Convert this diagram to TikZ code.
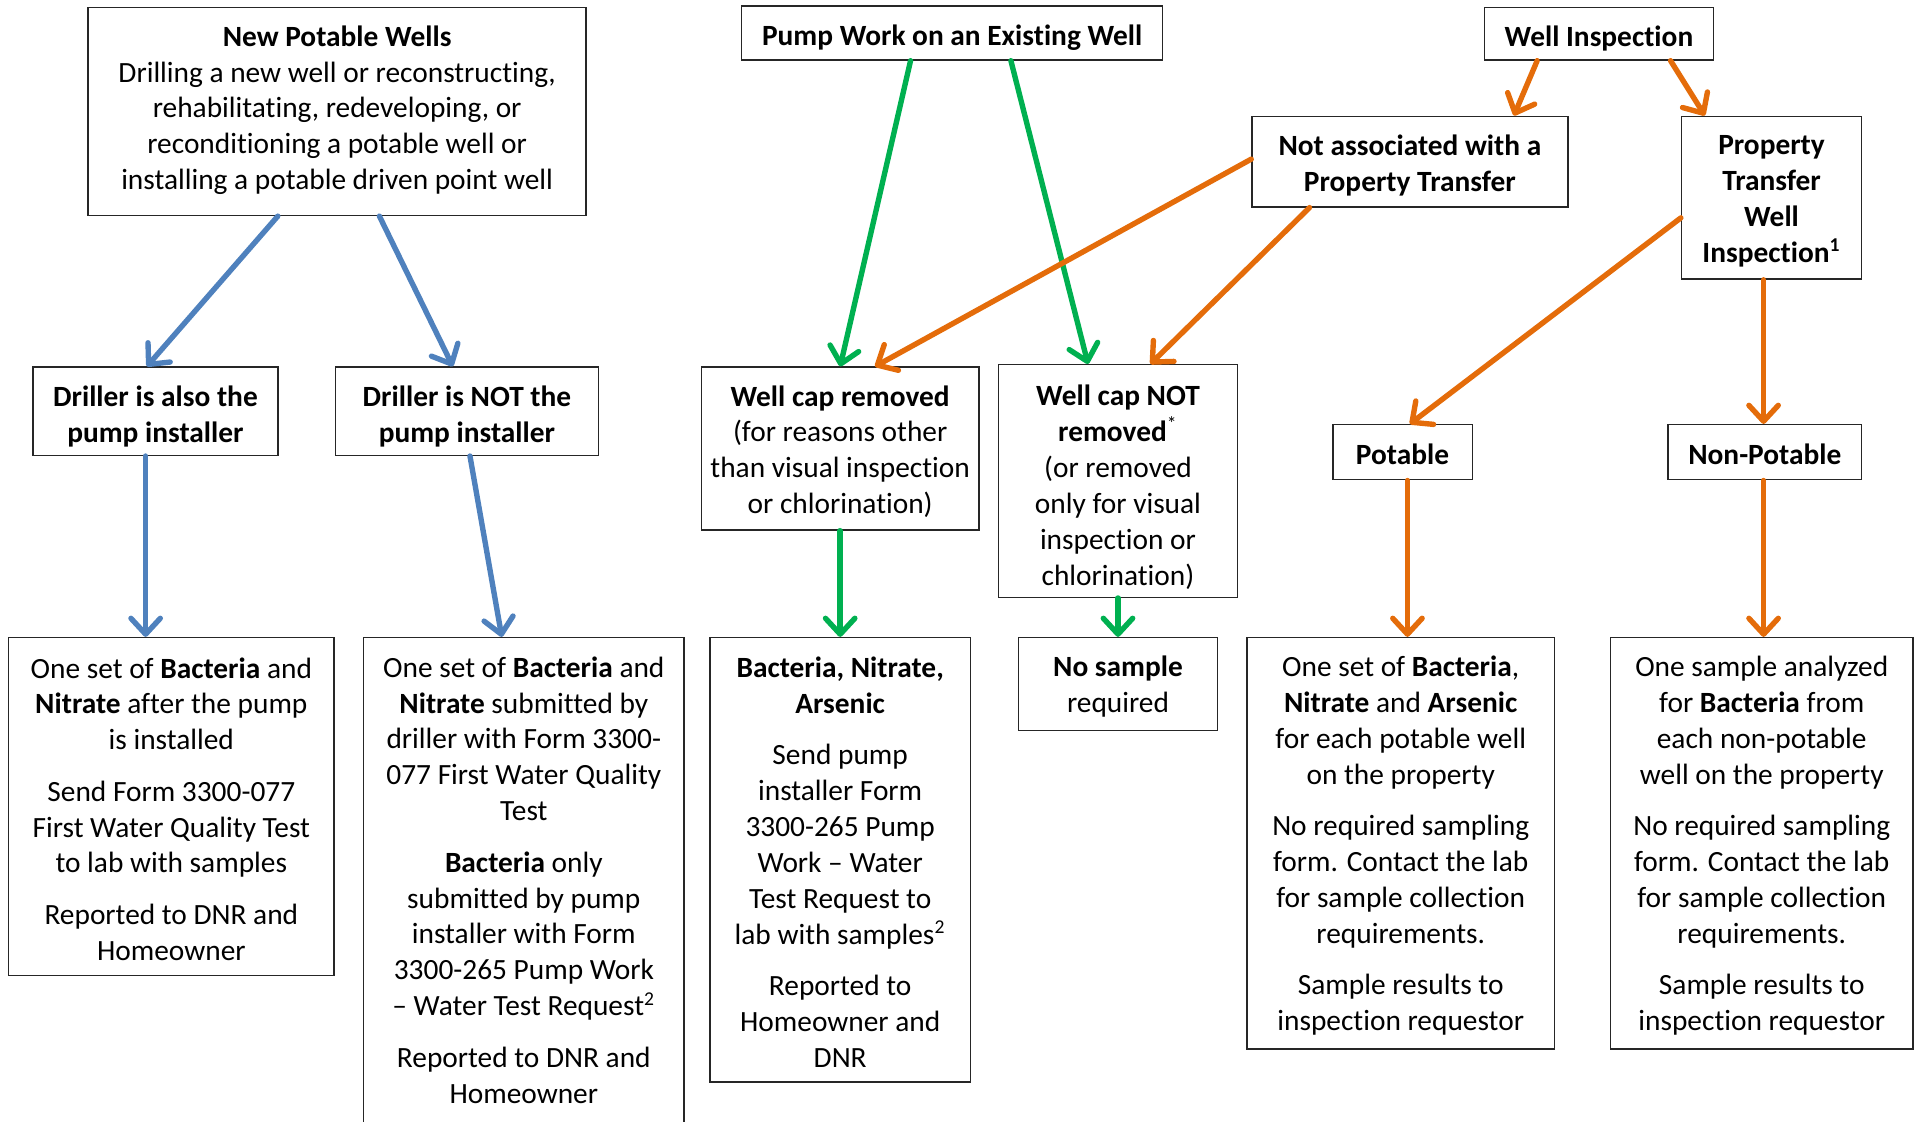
\documentclass[tikz,border=0pt]{standalone}
\usepackage{fontspec}
\setmainfont{Carlito}[Ligatures={TeX,NoCommon}]
\usetikzlibrary{arrows.meta}
\definecolor{cblue}{HTML}{4F81BD}
\definecolor{cgreen}{HTML}{00B050}
\definecolor{corange}{HTML}{E46C0A}
\tikzset{
  box/.style={draw=black!85, line width=0.6pt, inner sep=0pt, fill=white},
  ntext/.style={inner sep=0pt, align=center, font=\fontsize{12}{14.65}\selectfont},
  btext/.style={ntext, font=\fontsize{12}{14.65}\selectfont\bfseries},
  flow/.style={line width=2.2pt, line cap=round,
    -{Straight Barb[length=6.5pt,width=12pt,round]}},
  barrow/.style={flow, cblue},
  garrow/.style={flow, cgreen},
  oarrow/.style={flow, corange}
}
\newcommand{\pg}{\\[6.4pt]}
% name, cx, cy, width(pt), height(pt), n|b, downshift(pt), text
\newcommand{\bx}[8]{\node[box, minimum width=#4pt, minimum height=#5pt,
  label={[#6text, yshift=-#7pt]center:{#8}}] (#1) at (#2,#3) {};}
\begin{document}
\begin{tikzpicture}[x=0.5pt,y=-0.5pt]
\useasboundingbox (0,0) rectangle (1568,916);
% blue column
\bx{npw}{275.5}{91}{203.5}{85}{n}{-0.5}
  {\textbf{New Potable Wells}\\Drilling a new well or reconstructing,\\rehabilitating, redeveloping, or\\reconditioning a potable well or\\installing a potable driven point well}
\bx{drA}{127}{336}{100}{36}{b}{2}
  {Driller is also the\\pump installer}
\bx{drN}{381.5}{336}{107.5}{36}{b}{2}
  {Driller is NOT the\\pump installer}
\bx{bot1}{140}{659}{133}{138}{n}{1}
  {One set of \textbf{Bacteria} and\\\textbf{Nitrate} after the pump\\is installed\pg
   Send Form 3300-077\\First Water Quality Test\\to lab with samples\pg
   Reported to DNR and\\Homeowner}
\bx{bot2}{428}{719}{131}{198}{n}{0}
  {One set of \textbf{Bacteria} and\\\textbf{Nitrate} submitted by\\driller with Form 3300-\\077 First Water Quality\\Test\pg
   \textbf{Bacteria} only\\submitted by pump\\installer with Form\\3300-265 Pump Work\\– Water Test Request\textsuperscript{2}\pg
   Reported to DNR and\\Homeowner}
% green column
\bx{pump}{778}{27}{172}{22}{b}{2}
  {Pump Work on an Existing Well}
\bx{capR}{686.5}{366.5}{113.5}{66.5}{n}{1.25}
  {\textbf{Well cap removed}\\(for reasons other\\than visual inspection\\or chlorination)}
\bx{capN}{913.5}{393}{97.5}{95}{n}{2.5}
  {\textbf{Well cap NOT}\\\textbf{removed}\textsuperscript{*}\\(or removed\\only for visual\\inspection or\\chlorination)}
\bx{bna}{686.5}{702.5}{106.5}{181.5}{n}{1}
  {\textbf{Bacteria, Nitrate,}\\\textbf{Arsenic}\pg
   Send pump\\installer Form\\3300-265 Pump\\Work – Water\\Test Request to\\lab with samples\textsuperscript{2}\pg
   Reported to\\Homeowner and\\DNR}
\bx{nos}{913.5}{559}{81.5}{38}{n}{1}
  {\textbf{No sample}\\required}
% orange column
\bx{wi}{1306.5}{27.5}{93.5}{21.5}{b}{2}
  {Well Inspection}
\bx{notA}{1152}{132}{129}{37}{b}{1.5}
  {Not associated with a\\Property Transfer}
\bx{ptwi}{1447.5}{161.5}{73.5}{66.5}{b}{1.5}
  {Property\\Transfer\\Well\\Inspection\textsuperscript{1}}
\bx{pot}{1146}{369.5}{57}{22.5}{b}{1}
  {Potable}
\bx{npot}{1442}{369.5}{79}{22.5}{b}{1}
  {Non-Potable}
\bx{botP}{1144.5}{689}{125.5}{168}{n}{1}
  {One set of \textbf{Bacteria},\\\textbf{Nitrate} and \textbf{Arsenic}\\for each potable well\\on the property\pg
   No required sampling\\form. Contact the lab\\for sample collection\\requirements.\pg
   Sample results to\\inspection requestor}
\bx{botN}{1439.5}{689}{123.5}{168}{n}{1}
  {One sample analyzed\\for \textbf{Bacteria} from\\each non-potable\\well on the property\pg
   No required sampling\\form. Contact the lab\\for sample collection\\requirements.\pg
   Sample results to\\inspection requestor}
% blue arrows
\draw[barrow] ([xshift=-24.25pt]npw.south) -- ([xshift=-3.5pt]drA.north);
\draw[barrow] ([xshift=17.25pt]npw.south) -- ([xshift=-5.75pt]drN.north);
\draw[barrow] ([xshift=-4pt]drA.south) -- ([xshift=-10.5pt]bot1.north);
\draw[barrow] ([xshift=1.25pt]drN.south) -- ([xshift=-9pt]bot2.north);
% green arrows
\draw[garrow] ([xshift=-17pt]pump.south) -- (capR.north);
\draw[garrow] ([xshift=24pt]pump.south) -- ([xshift=-12.25pt]capN.north);
\draw[garrow] (capR.south) -- (bna.north);
\draw[garrow] (capN.south) -- (nos.north);
% orange arrows
\draw[oarrow] ([xshift=-25.25pt]wi.south) -- ([xshift=42.5pt]notA.north);
\draw[oarrow] ([xshift=29.25pt]wi.south) -- ([xshift=-27.25pt]ptwi.north);
\draw[oarrow] ([yshift=1pt]notA.west) -- ([xshift=14.25pt]capR.north);
\draw[oarrow] ([xshift=-41pt]notA.south) -- ([xshift=13.25pt]capN.north);
\draw[oarrow] ([yshift=-8.25pt]ptwi.west) -- ([xshift=3pt]pot.north);
\draw[oarrow] ([xshift=-3.25pt]ptwi.south) -- ([xshift=-0.5pt]npot.north);
\draw[oarrow] ([xshift=2pt]pot.south) -- ([xshift=2.75pt]botP.north);
\draw[oarrow] ([xshift=-0.5pt]npot.south) -- ([xshift=0.75pt]botN.north);
\end{tikzpicture}
\end{document}
